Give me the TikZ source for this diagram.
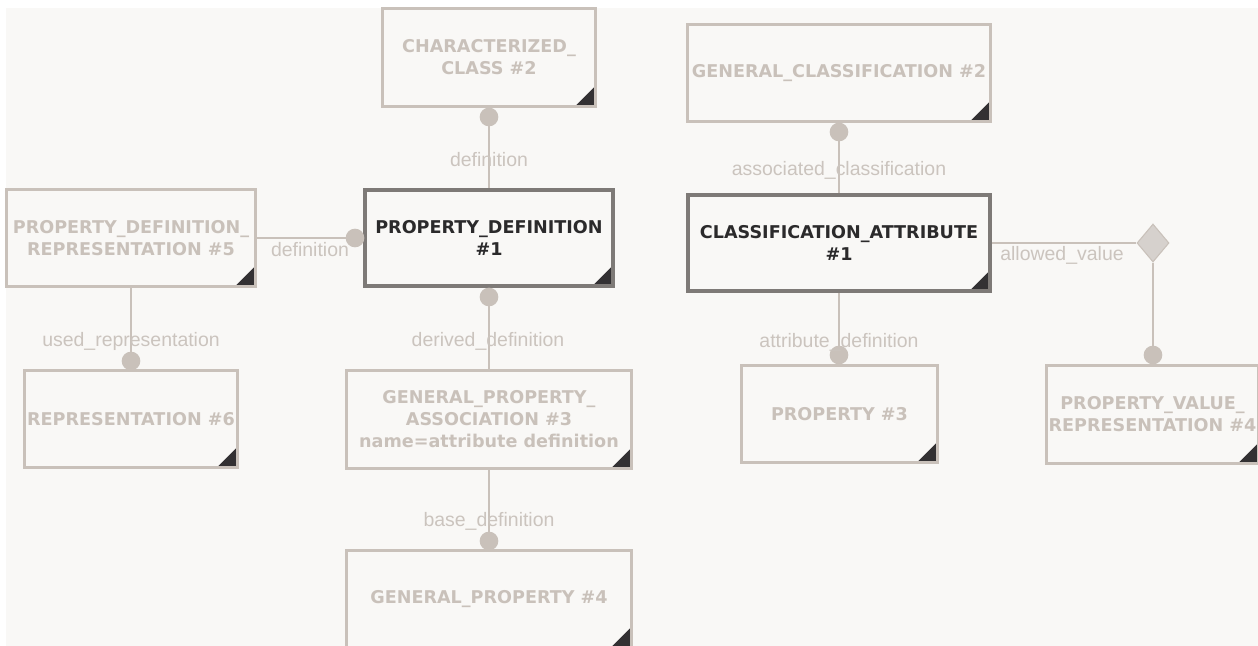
\documentclass[tikz,border=0pt]{standalone}
\usepackage{fontspec}
\usetikzlibrary{shapes.geometric,calc}
\newfontfamily\boxfont{DejaVu Sans}
\newfontfamily\lblfont{Liberation Sans}
\definecolor{bgc}{HTML}{F9F8F6}
\definecolor{lightc}{HTML}{C9C1BA}
\definecolor{lblc}{HTML}{CBC4BE}
\definecolor{darkc}{HTML}{7E7A77}
\definecolor{textc}{HTML}{2B2A2B}
\definecolor{cornerc}{HTML}{333133}
\definecolor{diac}{HTML}{D6D1CD}
\pgfdeclarelayer{lines}
\pgfsetlayers{lines,main}
\tikzset{
  ebox/.style={draw=lightc, line width=2.25pt, fill=bgc, inner sep=0pt, align=center,
    text=lightc, font=\boxfont\bfseries\fontsize{13.2pt}{16.5pt}\selectfont,
    path picture={\fill[cornerc] (path picture bounding box.south east) -- ++(-15.5pt,0pt) -- ++(15.5pt,15.5pt) -- cycle;}},
  mbox/.style={ebox, draw=darkc, line width=2.7pt, text=textc},
  boxsize/.style 2 args={minimum width=#1*0.75pt, minimum height=#2*0.75pt},
  dot/.style={circle, fill=lightc, inner sep=0pt, minimum size=14pt},
  conn/.style={draw=lightc, line width=1.5pt},
  lbl/.style={text=lblc, font=\lblfont\fontsize{14.6pt}{16pt}\selectfont, inner sep=0pt},
  dia/.style={diamond, fill=diac, draw=lightc, line width=0.8pt, inner sep=0pt,
    minimum width=32*0.75pt, minimum height=38*0.75pt}
}
\begin{document}
\begin{tikzpicture}[x=0.75pt,y=-0.75pt]
\useasboundingbox (0,0) rectangle (1258,646);
\clip (0,0) rectangle (1258,646);
% boxes
\node[ebox, boxsize={213}{98}] (cc) at (489,57.5) {CHARACTERIZED\_\\CLASS \#2};
\node[mbox, boxsize={248}{96}] (pd) at (489,238) {PROPERTY\_DEFINITION\\\#1};
\node[ebox, boxsize={249}{97}] (pdr) at (131,238) {PROPERTY\_DEFINITION\_\\REPRESENTATION \#5};
\node[ebox, boxsize={213}{97}] (rep) at (131,419) {REPRESENTATION \#6};
\node[ebox, boxsize={285}{98}] (gpa) at (489,419.5) {GENERAL\_PROPERTY\_\\ASSOCIATION \#3\\name=attribute definition};
\node[ebox, boxsize={285}{97}] (gp) at (489,599) {GENERAL\_PROPERTY \#4};
\node[ebox, boxsize={303}{97}] (gc) at (839,73) {GENERAL\_CLASSIFICATION \#2};
\node[mbox, boxsize={302}{96}] (ca) at (839,243) {CLASSIFICATION\_ATTRIBUTE\\\#1};
\node[ebox, boxsize={196}{97}] (pr) at (839.5,414) {PROPERTY \#3};
\node[ebox, boxsize={212}{98}] (pvr) at (1152.5,414.5) {PROPERTY\_VALUE\_\\REPRESENTATION \#4};
% dots and diamond
\node[dot] (d1) at (489,117) {};
\node[dot] (d2) at (355,238) {};
\node[dot] (d3) at (131,361) {};
\node[dot] (d4) at (489,297) {};
\node[dot] (d5) at (489,541) {};
\node[dot] (d6) at (839,132) {};
\node[dot] (d7) at (839,355) {};
\node[dot] (d8) at (1153,355) {};
\node[dia] (dm) at (1153,243) {};
% connectors
\begin{pgfonlayer}{lines}
\fill[bgc] (6,8) rectangle (1258,646);
\draw[conn] (d1.center) -- (pd.north);
\draw[conn] (pdr.east) -- (d2.center);
\draw[conn] (pdr.south) -- (d3.center);
\draw[conn] (d4.center) -- (gpa.north);
\draw[conn] (gpa.south) -- (d5.center);
\draw[conn] (d6.center) -- (ca.north);
\draw[conn] (ca.south) -- (d7.center);
\draw[conn] (ca.east) -- (dm.west);
\draw[conn] (dm.south) -- (d8.center);
\end{pgfonlayer}
% labels
\node[lbl] (l1) at (489,160) {definition};
\node[lbl] (l2) at (310,250) {definition};
\node[lbl] (l3) at (131,341) {used\_representation};
\node[lbl] (l4) at (488,341) {derived\_definition};
\node[lbl] (l5) at (489,521) {base\_definition};
\node[lbl] (l6) at (839,170) {associated\_classification};
\node[lbl] (l7) at (839,342) {attribute\_definition};
\node[lbl] (l8) at (1062,255) {allowed\_value};
\end{tikzpicture}
\end{document}
